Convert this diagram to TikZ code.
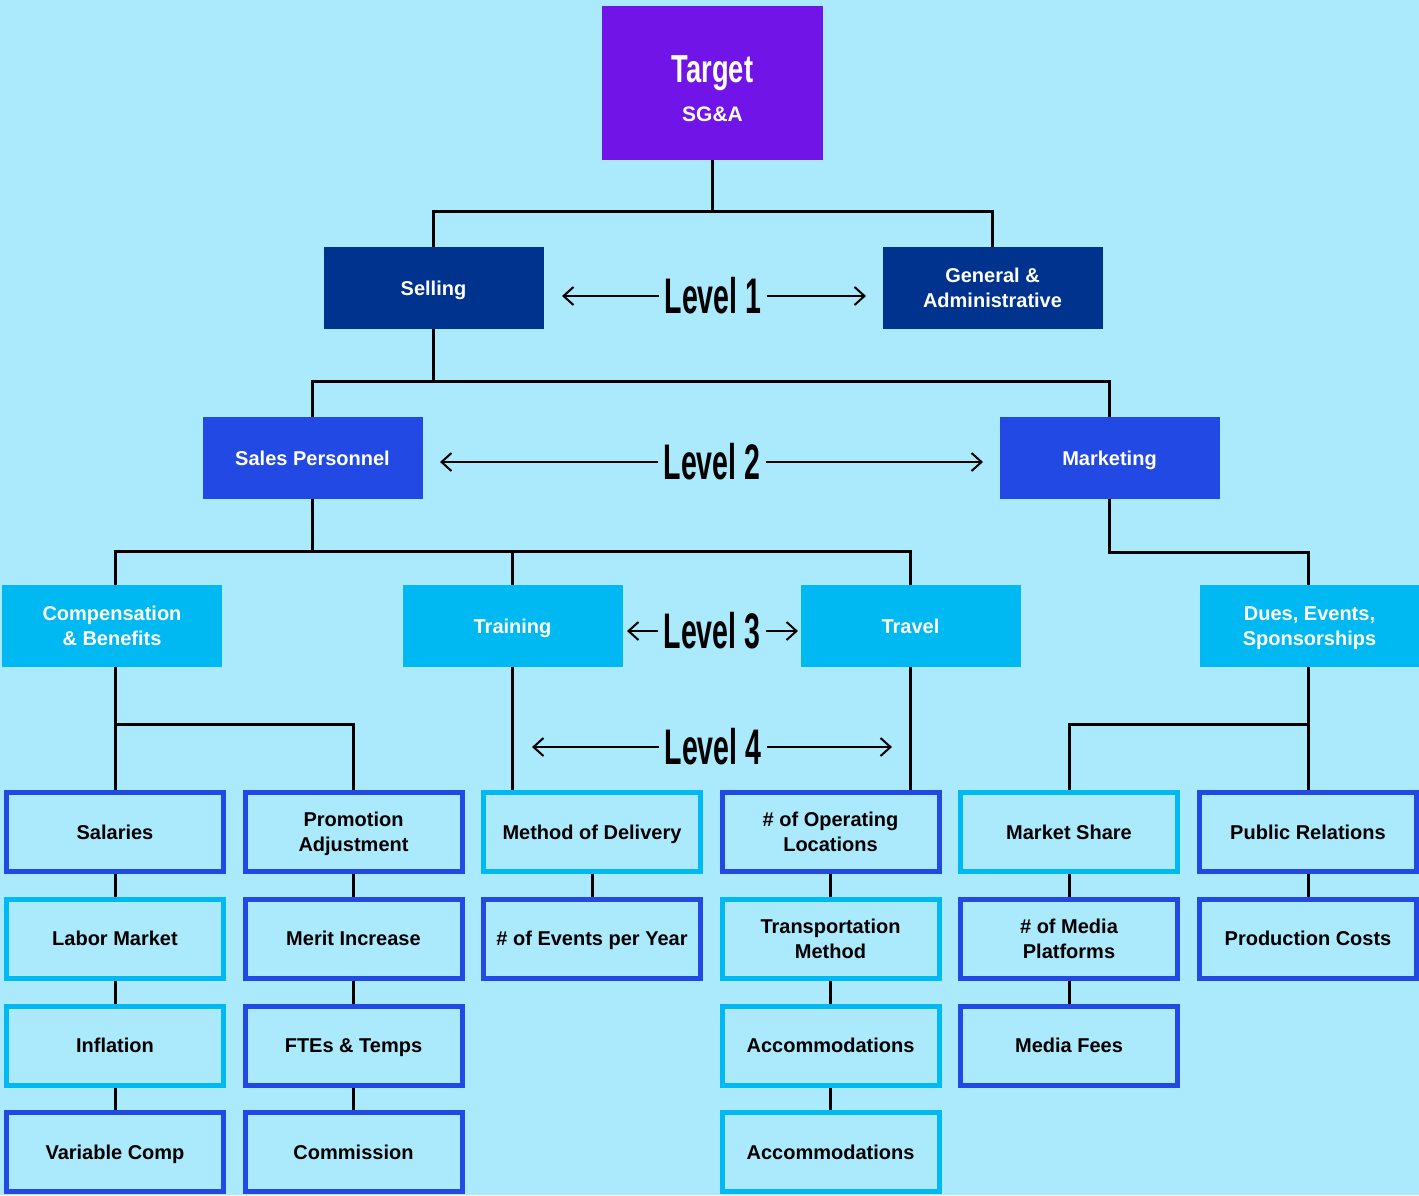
\documentclass[tikz,border=0pt]{standalone}
\usepackage{fontspec}
\setmainfont{Liberation Sans}
\newfontfamily\lvlfont[FakeStretch=0.57]{Liberation Sans}
\newfontfamily\tgtfont[FakeStretch=0.7]{Liberation Sans}
\usetikzlibrary{arrows.meta,backgrounds}
\definecolor{skybg}{RGB}{171,233,253}
\definecolor{purplebox}{RGB}{112,20,232}
\definecolor{navybox}{RGB}{0,51,141}
\definecolor{bluebox}{RGB}{34,73,227}
\definecolor{cyanbox}{RGB}{0,185,242}

\begin{document}
\begin{tikzpicture}[x=1pt,y=-1pt,
    boxtext/.style={font=\bfseries\fontsize{20}{25}\selectfont,align=center,inner sep=0pt,text depth=0pt},
    filled/.style={boxtext,text=white,minimum width=220pt,minimum height=82pt},
    lvlone/.style={filled,fill=navybox},
    lvltwo/.style={filled,fill=bluebox},
    lvlthree/.style={filled,fill=cyanbox},
    leaf/.style={boxtext,draw=#1,line width=5pt,fill=skybg,minimum width=217pt,minimum height=79pt},
    leaf/.default=bluebox,
    wire/.style={line width=3pt},
    levelname/.style={font=\lvlfont\bfseries\fontsize{50}{50}\selectfont,inner sep=5pt},
    lvlarrow/.style={line width=2pt,-{Straight Barb[length=10pt,width=18pt]}}]
  \useasboundingbox (0,0) rectangle (1419,1195);

  % top
  \node[fill=purplebox,text=white,minimum width=221pt,minimum height=154pt,align=center,inner sep=0pt,
        text depth=0pt,font=\bfseries\fontsize{21}{21}\selectfont] (target) at (712.5,83)
        {{\tgtfont\bfseries\fontsize{39}{39}\selectfont\rule{0pt}{38pt}Target}\\[16pt]SG\&A};

  % level 1 and 2
  \node[lvlone] (sell) at (433.5,288) {Selling};
  \node[lvlone] (ga) at (992.5,288) {General \&\\Administrative};
  \node[lvltwo] (salesp) at (312.5,458) {Sales Personnel};
  \node[lvltwo] (mkt) at (1109.5,458) {Marketing};

  % level 3
  \node[lvlthree] (comp) at (112,626) {Compensation\\\& Benefits};
  \node[lvlthree] (train) at (512.5,626) {Training};
  \node[lvlthree] (travel) at (910.5,626) {Travel};
  \node[lvlthree] (dues) at (1309.5,626) {Dues, Events,\\Sponsorships};

  % level 4
  \node[leaf] (sal) at (115,832) {Salaries};
  \node[leaf=cyanbox] (labor) at (115,938.5) {Labor Market};
  \node[leaf=cyanbox] (infl) at (115,1045.5) {Inflation};
  \node[leaf] (varcomp) at (115,1152) {Variable Comp};
  \node[leaf] (promo) at (353.5,832) {Promotion\\Adjustment};
  \node[leaf] (merit) at (353.5,938.5) {Merit Increase};
  \node[leaf] (ftes) at (353.5,1045.5) {FTEs \& Temps};
  \node[leaf] (commis) at (353.5,1152) {Commission};
  \node[leaf=cyanbox] (deliv) at (592,832) {Method of Delivery};
  \node[leaf] (events) at (592,938.5) {\# of Events per Year};
  \node[leaf] (oploc) at (830.5,832) {\# of Operating\\Locations};
  \node[leaf=cyanbox] (transp) at (830.5,938.5) {Transportation\\Method};
  \node[leaf=cyanbox] (accomA) at (830.5,1045.5) {Accommodations};
  \node[leaf=cyanbox] (accomB) at (830.5,1152) {Accommodations};
  \node[leaf=cyanbox] (mshare) at (1069,832) {Market Share};
  \node[leaf] (media) at (1069,938.5) {\# of Media\\Platforms};
  \node[leaf] (mfees) at (1069,1045.5) {Media Fees};
  \node[leaf] (pr) at (1308,832) {Public Relations};
  \node[leaf] (prod) at (1308,938.5) {Production Costs};

  % level names
  \node[levelname] (lv1) at (713,296) {Level 1};
  \node[levelname] (lv2) at (712,462) {Level 2};
  \node[levelname] (lv3) at (712,631) {Level 3};
  \node[levelname] (lv4) at (713,747) {Level 4};
  \coordinate (lv1l) at (562,296);
  \coordinate (lv1r) at (866,296);
  \coordinate (lv2l) at (440,462);
  \coordinate (lv2r) at (983,462);
  \coordinate (lv3l) at (627,631);
  \coordinate (lv3r) at (798,631);
  \coordinate (lv4l) at (532,747);
  \coordinate (lv4r) at (892,747);
  \foreach \n in {1,2,3,4} {
    \draw[lvlarrow] (lv\n.west) -- (lv\n l);
    \draw[lvlarrow] (lv\n.east) -- (lv\n r);
  }

  % connectors
  \begin{pgfonlayer}{background}
    \fill[skybg] (0,0) rectangle (1419,1195);
    \draw[wire] (target.south) -- ++(0,51) coordinate (tj);
    \draw[wire] (sell.north) |- (tj) -| (ga.north);
    \draw[wire] (sell.south) -- ++(0,52) coordinate (sj);
    \draw[wire] (salesp.north) |- (sj) -| (mkt.north);
    \draw[wire] (salesp.south) -- ++(0,52) coordinate (pj);
    \draw[wire] (comp.north -| sal.north) |- (pj) -| (travel.north);
    \draw[wire] (pj -| train.north) -- (train.north);
    \draw[wire] (mkt.south) |- ++(0,53) -| (dues.north -| pr.north);
    \coordinate (cj) at (115,724);
    \coordinate (dj) at (1308,724);
    \draw[wire] (comp.south -| sal.north) -- (sal.north);
    \draw[wire] (cj) -| (promo.north);
    \draw[wire] (train.south) -- (train.south |- deliv.north);
    \draw[wire] (travel.south) -- (travel.south |- oploc.north);
    \draw[wire] (dues.south -| pr.north) -- (pr.north);
    \draw[wire] (dj) -| (mshare.north);
    \foreach \a/\b in {sal/labor,labor/infl,infl/varcomp,promo/merit,merit/ftes,ftes/commis,
        deliv/events,oploc/transp,transp/accomA,accomA/accomB,mshare/media,media/mfees,pr/prod}
      \draw[wire] (\a.south) -- (\b.north);
  \end{pgfonlayer}
\end{tikzpicture}
\end{document}
